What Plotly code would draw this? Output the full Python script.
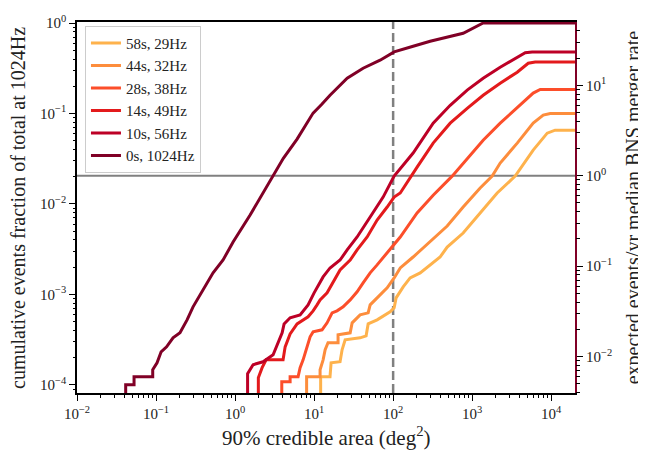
import math
import plotly.graph_objects as go

# ---- data (area in deg^2, cumulative fraction) ----
labels = ["58s, 29Hz", "44s, 32Hz", "28s, 38Hz", "14s, 49Hz", "10s, 56Hz", "0s, 1024Hz"]
colors = ["#feb24c", "#fd8d3c", "#fc4e2a", "#e31a1c", "#bd0026", "#800026"]

area_58 = [12.1, 12.1, 15.9, 16.4, 21.3, 22.6, 24.7, 38.2, 45.5, 48.3, 62.7, 74.7, 91.6, 103, 109,
           134, 164, 220, 294, 393, 483, 769, 1262, 2072, 3500, 5916, 8900, 11200, 20100]
frac_58 = [7e-5, 1.23e-4, 1.23e-4, 1.75e-4, 1.80e-4, 2.44e-4, 3.15e-4, 3.31e-4, 3.48e-4, 4.72e-4,
           5.23e-4, 5.79e-4, 6.41e-4, 7.10e-4, 9.15e-4, 1.21e-3, 1.52e-3, 1.73e-3, 2.12e-3, 2.59e-3,
           3.34e-3, 4.77e-3, 7.94e-3, 1.32e-2, 2.03e-2, 3.94e-2, 6.06e-2, 6.54e-2, 6.54e-2]

area_44 = [8.04, 8.04, 11.9, 11.9, 13.0, 13.8, 15.0, 20.1, 20.1, 28.6, 30.3, 38.2, 48.3, 51.2, 62.7,
           84.0, 103, 123, 179, 294, 483, 769, 1262, 1791, 2262, 3715, 5916, 7925, 9710, 20100]
frac_44 = [7e-5, 1.23e-4, 1.23e-4, 1.47e-4, 1.89e-4, 2.44e-4, 2.92e-4, 2.92e-4, 3.57e-4, 3.76e-4,
           4.85e-4, 5.94e-4, 6.25e-4, 7.66e-4, 9.15e-4, 1.18e-3, 1.52e-3, 1.96e-3, 2.59e-3, 3.80e-3,
           5.70e-3, 9.24e-3, 1.50e-2, 2.03e-2, 2.83e-2, 4.70e-2, 7.81e-2, 9.58e-2, 0.100, 0.100]

area_28 = [3.90, 3.90, 4.97, 4.97, 6.27, 6.65, 7.26, 8.15, 8.90, 9.71, 12.6, 14.6, 16.9, 19.5, 23.3,
           28.6, 35.0, 41.7, 51.2, 62.7, 84.0, 103, 123, 201, 321, 558, 865, 1377, 2262, 3715, 5916,
           7260, 20100]
frac_28 = [7e-5, 1.08e-4, 1.08e-4, 1.23e-4, 1.23e-4, 1.55e-4, 1.89e-4, 2.63e-4, 3.40e-4, 3.85e-4,
           4.06e-4, 4.85e-4, 6.25e-4, 6.58e-4, 7.28e-4, 8.69e-4, 1.07e-3, 1.34e-3, 1.73e-3, 2.12e-3,
           2.87e-3, 3.52e-3, 4.31e-3, 7.94e-3, 1.25e-2, 2.03e-2, 3.21e-2, 5.07e-2, 7.81e-2, 0.117,
           0.168, 0.184, 0.184]

area_14 = [1.97, 1.97, 2.20, 2.47, 4.05, 4.30, 4.97, 6.09, 8.39, 9.71, 10.9, 11.9, 14.6, 17.4, 21.3,
           28.6, 35.0, 46.9, 62.7, 84.0, 103, 123, 164, 201, 321, 527, 865, 1377, 2262, 3715, 5117,
           6270, 20100]
frac_14 = [7e-5, 1.20e-4, 1.55e-4, 1.89e-4, 1.89e-4, 2.63e-4, 3.66e-4, 4.72e-4, 5.65e-4, 6.58e-4,
           7.66e-4, 8.69e-4, 1.04e-3, 1.34e-3, 1.86e-3, 2.40e-3, 3.10e-3, 4.31e-3, 6.64e-3, 9.24e-3,
           1.19e-2, 1.32e-2, 1.98e-2, 2.55e-2, 4.70e-2, 7.81e-2, 0.114, 0.159, 0.216, 0.286, 0.359,
           0.371, 0.371]

area_10 = [1.44, 1.44, 1.69, 2.26, 3.03, 3.40, 3.94, 4.17, 4.97, 6.65, 8.39, 10.0, 13.0, 15.9, 21.3,
           26.2, 35.0, 51.2, 74.7, 103, 179, 321, 527, 865, 1377, 2262, 3715, 4690, 5745, 20100]
frac_10 = [7e-5, 1.33e-4, 1.67e-4, 1.80e-4, 2.15e-4, 2.70e-4, 3.76e-4, 4.72e-4, 5.51e-4, 5.94e-4,
           7.66e-4, 1.04e-3, 1.56e-3, 1.96e-3, 2.40e-3, 3.10e-3, 4.31e-3, 7.17e-3, 1.19e-2, 2.03e-2,
           3.65e-2, 7.81e-2, 0.123, 0.181, 0.245, 0.324, 0.418, 0.469, 0.479, 0.479]

area_0 = [0.0413, 0.0413, 0.0527, 0.0527, 0.0908, 0.0908, 0.103, 0.116, 0.136, 0.164, 0.201, 0.247,
          0.294, 0.394, 0.527, 0.705, 0.944, 1.55, 3.03, 4.08, 6.09, 9.71, 12.6, 15.9, 26.2, 41.7,
          68.4, 103, 179, 294, 769, 1377, 20100]
frac_0 = [7e-5, 1.0e-4, 1.0e-4, 1.23e-4, 1.23e-4, 1.47e-4, 1.75e-4, 2.32e-4, 2.63e-4, 3.31e-4,
          3.76e-4, 5.23e-4, 7.28e-4, 1.12e-3, 1.73e-3, 2.40e-3, 3.80e-3, 7.55e-3, 2.03e-2, 3.19e-2,
          5.20e-2, 0.101, 0.127, 0.159, 0.245, 0.316, 0.388, 0.479, 0.553, 0.628, 0.770, 1.0, 1.0]

areas = [area_58, area_44, area_28, area_14, area_10, area_0]
fracs = [frac_58, frac_44, frac_28, frac_14, frac_10, frac_0]

hline_frac = 0.0205   # fraction corresponding to 1 event/yr
vline_area = 100

x_decades = [-2, -1, 0, 1, 2, 3, 4]
y_decades = [-4, -3, -2, -1, 0]
y2_decades = [-2, -1, 0, 1]

x_range = [-2, 4.301]
y_range = [-4.090, 0.011]
shift = -math.log10(hline_frac)
y2_range = [y_range[0] + shift, y_range[1] + shift]

FONT = "Liberation Serif"
TXT = "#222222"
BODY = 8  # default page margin of the html body


def majors(decs):
    return [10.0 ** d for d in decs], ["10<sup>%s</sup>" % (str(d).replace("-", "\u2212")) for d in decs]


def minors(rng):
    out = []
    for d in range(math.floor(rng[0]) - 1, math.ceil(rng[1]) + 1):
        for k in range(2, 10):
            v = k * 10.0 ** d
            lv = math.log10(v)
            if rng[0] + 1e-3 < lv < rng[1] - 1e-3:
                out.append(v)
    return out


fig = go.Figure()
for a, f, lab, c in zip(areas, fracs, labels, colors):
    fig.add_trace(go.Scatter(x=a, y=f, mode="lines", name=lab,
                             line=dict(color=c, width=3)))

# dummy traces so the overlay axes are drawn
for xa, ya in [("x", "y2"), ("x2", "y"), ("x", "y3"), ("x", "y4")]:
    fig.add_trace(go.Scatter(x=[None], y=[None], xaxis=xa, yaxis=ya, showlegend=False,
                             hoverinfo="skip"))

fig.add_shape(type="line", xref="paper", yref="y", x0=0, x1=1, y0=hline_frac, y1=hline_frac,
              line=dict(color="#808080", width=2), layer="below")
fig.add_shape(type="line", xref="x", yref="paper", x0=vline_area, x1=vline_area, y0=0, y1=1,
              line=dict(color="#808080", width=2.5, dash="9px,4px"), layer="below")

tickfont = dict(family=FONT, size=15, color=TXT)
xv, xt = majors(x_decades)
yv, yt = majors(y_decades)
y2v, y2t = majors(y2_decades)

common = dict(type="log", showgrid=False, zeroline=False, automargin=False, tickcolor="black")

W, H = 646, 453
fig.update_layout(
    width=W, height=H,
    margin=dict(l=77 - BODY, r=W - (575 - BODY), t=22 - BODY, b=H - (393.3 - BODY)),
    plot_bgcolor="white", paper_bgcolor="white",
    font=dict(family=FONT, color=TXT),
    showlegend=True,
    legend=dict(x=0.016, y=0.99, xanchor="left", yanchor="top",
                bgcolor="rgba(255,255,255,0.85)", bordercolor="#cccccc", borderwidth=1,
                font=dict(family=FONT, size=15, color=TXT), itemwidth=30,
                tracegroupgap=0),
    xaxis=dict(**common, range=x_range, tickmode="array", tickvals=xv, ticktext=xt,
               ticks="outside", ticklen=6, tickwidth=1.3, showline=True, linecolor="black",
               linewidth=1.6, mirror=True, tickfont=tickfont),
    xaxis2=dict(**common, range=x_range, overlaying="x", anchor="y", side="bottom",
                tickmode="array", tickvals=minors(x_range), ticks="outside", ticklen=3.5,
                tickwidth=1, showticklabels=False, showline=False),
    yaxis=dict(**common, range=y_range, tickmode="array", tickvals=yv, ticktext=yt,
               ticks="outside", ticklen=6, tickwidth=1.3, showline=True, linecolor="black",
               linewidth=1.6, tickfont=tickfont),
    yaxis3=dict(**common, range=y_range, overlaying="y", anchor="x", side="left",
                tickmode="array", tickvals=minors(y_range), ticks="outside", ticklen=3.5,
                tickwidth=1, showticklabels=False, showline=False),
    yaxis2=dict(**common, range=y2_range, overlaying="y", anchor="x", side="right",
                tickmode="array", tickvals=y2v, ticktext=y2t, ticks="outside", ticklen=6,
                tickwidth=1.3, showline=True, linecolor="#800026", linewidth=2,
                tickfont=tickfont),
    yaxis4=dict(**common, range=y2_range, overlaying="y", anchor="x", side="right",
                tickmode="array", tickvals=minors(y2_range), ticks="outside", ticklen=3.5,
                tickwidth=1, showticklabels=False, showline=False),
)

title_font = dict(family=FONT, size=20, color=TXT)
fig.add_annotation(text="90% credible area (deg<sup>2</sup>)", xref="paper", yref="paper",
                   x=0.5, y=-0.118, xanchor="center", yanchor="middle", showarrow=False,
                   font=dict(family=FONT, size=21, color=TXT))
fig.add_annotation(text="cumulative events fraction of total at 1024Hz", xref="paper",
                   yref="paper", x=-0.1195, y=0.5, xanchor="center", yanchor="middle",
                   textangle=-90, showarrow=False, font=title_font)
fig.add_annotation(text="expected events/yr median BNS merger rate", xref="paper",
                   yref="paper", x=1.118, y=0.5, xanchor="center", yanchor="middle",
                   textangle=-90, showarrow=False, font=title_font)

fig.write_html("out.html")
